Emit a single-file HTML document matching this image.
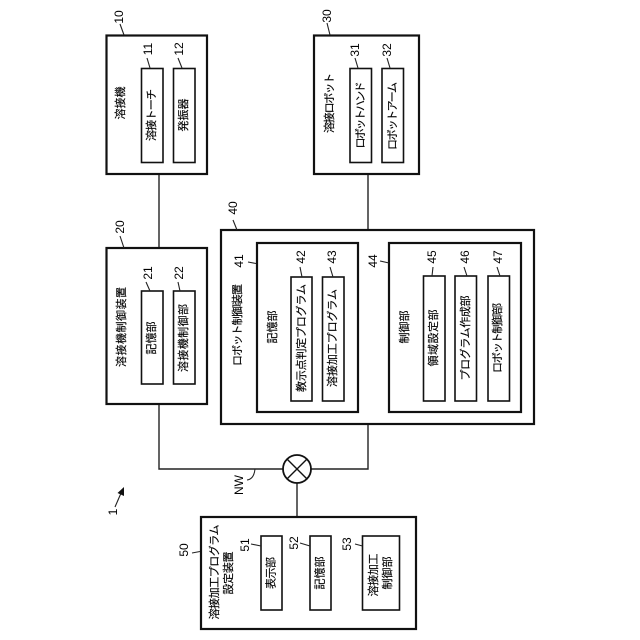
<!DOCTYPE html>
<html><head><meta charset="utf-8"><style>
html,body{margin:0;padding:0;background:#fff}
svg{display:block}
text{font-family:"Liberation Sans","Noto Sans CJK JP",sans-serif;font-size:11px;fill:#000;stroke:#000;stroke-width:.15;text-anchor:middle;dominant-baseline:central}
.n{font-size:12px;stroke-width:0}
.o{fill:#fff;stroke:#111;stroke-width:2.2}
.i{fill:#fff;stroke:#111;stroke-width:1.6}
.l{fill:none;stroke:#222;stroke-width:1.1}
.c{fill:none;stroke:#222;stroke-width:1.4}
</style></head><body>
<svg width="640" height="640" viewBox="0 0 640 640" xmlns="http://www.w3.org/2000/svg">
<rect width="640" height="640" fill="#fff"/>
<!-- connectors -->
<path class="c" d="M159 174V248M159 404V469H283M311 469H368V424M368 174V230M297 483V517"/>
<circle cx="297" cy="469" r="14" fill="#fff" stroke="#111" stroke-width="1.8"/>
<path d="M287.100 459.100L306.900 478.900M306.900 459.100L287.100 478.900" stroke="#111" stroke-width="1.4" fill="none"/>
<!-- boxes -->
<rect class="o" x="106.500" y="35.500" width="100.500" height="138.500"/>
<rect class="i" x="141.500" y="68.500" width="21.500" height="94"/>
<rect class="i" x="173.500" y="68.500" width="21.500" height="94"/>
<rect class="o" x="106.500" y="248" width="100.500" height="156"/>
<rect class="i" x="141.500" y="291" width="21.500" height="93"/>
<rect class="i" x="173.500" y="291" width="21.500" height="93"/>
<rect class="o" x="314" y="35.500" width="105" height="138.500"/>
<rect class="i" x="350" y="68.500" width="21.500" height="94"/>
<rect class="i" x="382" y="68.500" width="21.500" height="94"/>
<rect class="o" x="221" y="230" width="313" height="194"/>
<rect class="o" x="257" y="243" width="101" height="169"/>
<rect class="i" x="291" y="277" width="21" height="124"/>
<rect class="i" x="322.500" y="277" width="21.500" height="124"/>
<rect class="o" x="389" y="243" width="132" height="169"/>
<rect class="i" x="423.500" y="276" width="21.500" height="125"/>
<rect class="i" x="455" y="276" width="21.500" height="125"/>
<rect class="i" x="488" y="276" width="21.500" height="125"/>
<rect class="o" x="201" y="517" width="215" height="112"/>
<rect class="i" x="261" y="536" width="21" height="74"/>
<rect class="i" x="310" y="536" width="21" height="74"/>
<rect class="i" x="362.500" y="536" width="37" height="74"/>
<!-- leaders -->
<path class="l" d="M120 24L124 35M147 58L150 68M178 58L182 68M120 236L124 248M146 282L150 291M178 282L180 291M327 23L330 35M355 58L358 68M387 58L390 68M233 220L237 230M248 262L256 263.500M300 267L302 277M330 267L333 277M380 261L389 263M433 267L432 276M464 267L467 276M497 267L500 276M192 553L200 551.500M251 544L261 546M300 543L310 546M355 544L362.500 546"/>
<path class="l" d="M247 480Q254 479 255 469"/>
<path d="M115 507L121.500 492" stroke="#222" stroke-width="1.1" fill="none"/>
<path d="M124 487L124 496L117.500 493Z" fill="#111"/>
<!-- labels -->
<text transform="translate(121,103) rotate(-90)" textLength="33">溶接機</text>
<text transform="translate(152,115) rotate(-90)" textLength="52">溶接トーチ</text>
<text transform="translate(184,115) rotate(-90)" textLength="33">発振器</text>
<text transform="translate(122,327) rotate(-90)" textLength="80">溶接機制御装置</text>
<text transform="translate(152,338) rotate(-90)" textLength="33">記憶部</text>
<text transform="translate(184,338) rotate(-90)" textLength="68">溶接機制御部</text>
<text transform="translate(330,103) rotate(-90)" textLength="60">溶接ロボット</text>
<text transform="translate(361,115) rotate(-90)" textLength="67">ロボットハンド</text>
<text transform="translate(393,116) rotate(-90)" textLength="68">ロボットアーム</text>
<text transform="translate(238,325) rotate(-90)" textLength="82">ロボット制御装置</text>
<text transform="translate(273,327) rotate(-90)" textLength="33">記憶部</text>
<text transform="translate(302,338) rotate(-90)" textLength="108">教示点判定プログラム</text>
<text transform="translate(333,338) rotate(-90)" textLength="98">溶接加工プログラム</text>
<text transform="translate(405,327) rotate(-90)" textLength="33">制御部</text>
<text transform="translate(434,338) rotate(-90)" textLength="57">領域設定部</text>
<text transform="translate(466,338) rotate(-90)" textLength="85">プログラム作成部</text>
<text transform="translate(498,338) rotate(-90)" textLength="70">ロボット制御部</text>
<text transform="translate(215,572) rotate(-90)" textLength="95">溶接加工プログラム</text>
<text transform="translate(229,573) rotate(-90)" textLength="43">設定装置</text>
<text transform="translate(271.500,573) rotate(-90)" textLength="32">表示部</text>
<text transform="translate(320.500,573) rotate(-90)" textLength="33">記憶部</text>
<text transform="translate(374,575) rotate(-90)" textLength="43">溶接加工</text>
<text transform="translate(388,573) rotate(-90)" textLength="33">制御部</text>
<!-- numbers -->
<text class="n" transform="translate(119,17) rotate(-90)">10</text>
<text class="n" transform="translate(148,49) rotate(-90)">11</text>
<text class="n" transform="translate(179,49) rotate(-90)">12</text>
<text class="n" transform="translate(120,227) rotate(-90)">20</text>
<text class="n" transform="translate(148,273) rotate(-90)">21</text>
<text class="n" transform="translate(179,273) rotate(-90)">22</text>
<text class="n" transform="translate(327,16) rotate(-90)">30</text>
<text class="n" transform="translate(355,50) rotate(-90)">31</text>
<text class="n" transform="translate(387,50) rotate(-90)">32</text>
<text class="n" transform="translate(233,208) rotate(-90)">40</text>
<text class="n" transform="translate(239,261) rotate(-90)">41</text>
<text class="n" transform="translate(301,257) rotate(-90)">42</text>
<text class="n" transform="translate(332,257) rotate(-90)">43</text>
<text class="n" transform="translate(373,261) rotate(-90)">44</text>
<text class="n" transform="translate(432,257) rotate(-90)">45</text>
<text class="n" transform="translate(465,257) rotate(-90)">46</text>
<text class="n" transform="translate(498,257) rotate(-90)">47</text>
<text class="n" transform="translate(184,550) rotate(-90)">50</text>
<text class="n" transform="translate(245,545) rotate(-90)">51</text>
<text class="n" transform="translate(294,543) rotate(-90)">52</text>
<text class="n" transform="translate(347,544) rotate(-90)">53</text>
<text class="n" transform="translate(239,485) rotate(-90)">NW</text>
<text class="n" transform="translate(113,512) rotate(-90)">1</text>
</svg>
</body></html>
